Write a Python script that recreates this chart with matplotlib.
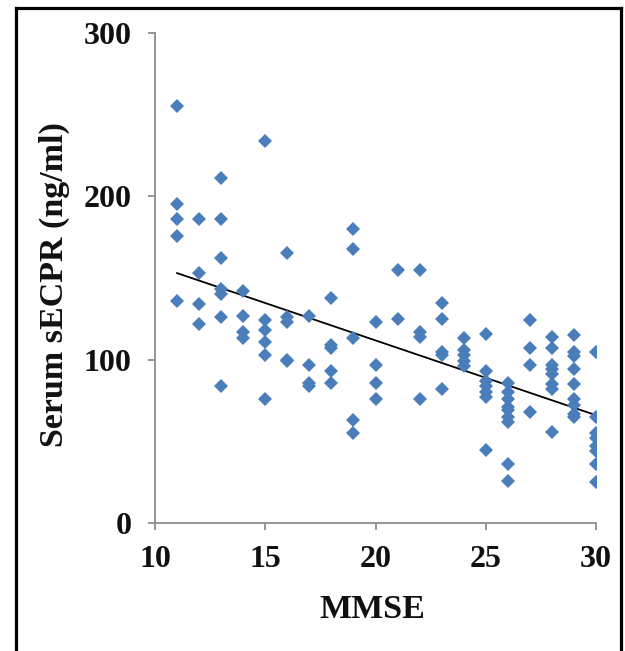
import matplotlib
matplotlib.use("Agg")
import matplotlib.pyplot as plt
from matplotlib.lines import Line2D

# ---- data ----
mmse = ([11]*5 + [12]*4 + [13]*7 + [14]*4 + [15]*6 + [16]*5 + [17]*4 + [18]*5 +
        [19]*5 + [20]*4 + [21]*2 + [22]*4 + [23]*5 + [24]*5 + [25]*7 + [26]*9 +
        [27]*4 + [28]*8 + [29]*9 + [30]*8)
secpr = [255, 195, 186, 176, 136,
         186, 153, 134, 122,
         211, 186, 162, 143, 140, 126, 84,
         142, 127, 117, 113,
         234, 124, 118, 111, 103, 76,
         165, 126, 123, 100, 99,
         127, 97, 86, 84,
         138, 109, 107, 93, 86,
         180, 168, 113, 63, 55,
         123, 97, 86, 76,
         155, 125,
         155, 117, 114, 76,
         135, 125, 105, 103, 82,
         113, 106, 103, 99, 96,
         116, 93, 87, 84, 80, 77, 45,
         86, 80, 76, 71, 69, 65, 62, 36, 26,
         124, 107, 97, 68,
         114, 107, 97, 94, 91, 85, 82, 56,
         115, 105, 102, 94, 85, 76, 72, 67, 65,
         105, 65, 55, 52, 47, 44, 36, 25]
trend_x = [11, 30]
trend_y = [153, 66]
xticks = [10, 15, 20, 25, 30]
yticks = [0, 100, 200, 300]

W, H = 625, 651
fig = plt.figure(figsize=(W/100, H/100), dpi=100)
fig.patch.set_facecolor("white")

left, right, top, bottom = 155, 596, 33, 523
ax = fig.add_axes([left/W, 1 - bottom/H, (right-left)/W, (bottom-top)/H])

ax.plot(mmse, secpr, linestyle="none", marker="D", markersize=7.4,
        markerfacecolor="#4a7ebb", markeredgewidth=0, zorder=3)
ax.plot(trend_x, trend_y, color="black", linewidth=1.3, zorder=2)

ax.set_xlim(10, 30)
ax.set_ylim(0, 300)
ax.set_xticks(xticks)
ax.set_yticks(yticks)

font = dict(family="Liberation Serif", weight="bold", size=23, color="#111111")
lfont = dict(font, size=24.5)
ax.set_xticklabels([str(t) for t in xticks], fontdict=font)
ax.set_yticklabels([str(t) for t in yticks], fontdict=font)

for s in ["top", "right"]:
    ax.spines[s].set_visible(False)
for s in ["left", "bottom"]:
    ax.spines[s].set_color("#8c8c8c")
    ax.spines[s].set_linewidth(1.3)
ax.tick_params(axis="both", direction="out", length=5, width=1.3, color="#8c8c8c")
ax.tick_params(axis="x", pad=11)
ax.tick_params(axis="y", pad=12)

fig.text(54/W, 1 - 285/H, "Serum sECPR (ng/ml)", rotation=90, ha="center", va="center",
         **lfont)
fig.text(372/W, 1 - 609/H, "MMSE", ha="center", va="center", **lfont)

# outer frame
lw = 2.3
fig.add_artist(Line2D([16/W, 16/W], [0, 1 - 8/H], color="black", linewidth=lw))
fig.add_artist(Line2D([16/W, 621/W], [1 - 8/H, 1 - 8/H], color="black", linewidth=lw))
fig.add_artist(Line2D([621/W, 621/W], [0, 1 - 8/H], color="black", linewidth=lw))

fig.savefig("out.png", dpi=100)
